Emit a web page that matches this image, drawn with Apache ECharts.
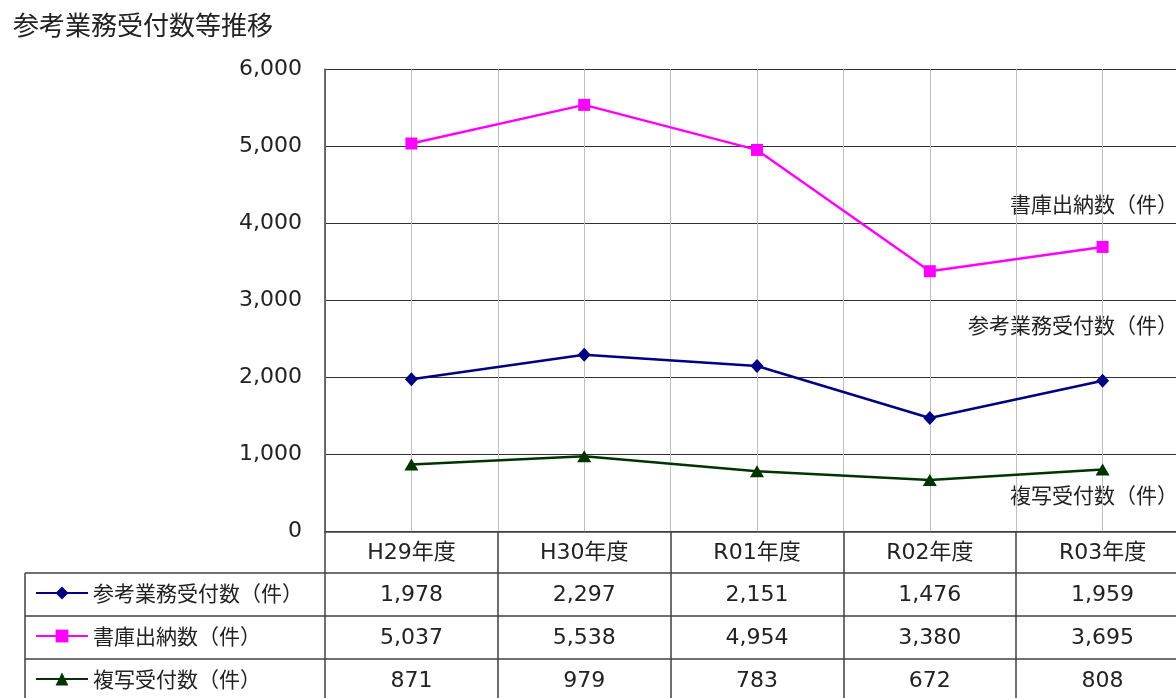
<!DOCTYPE html>
<html>
<head>
<meta charset="utf-8">
<script src="https://cdn.jsdelivr.net/npm/echarts@6/dist/echarts.min.js"></script>
<style>
html,body{margin:0;padding:0;background:#fff;overflow:hidden;width:1176px;height:698px;}
#main{width:1190px;height:698px;}
</style>
</head>
<body>
<div id="main"></div>
<script>
var title = '参考業務受付数等推移';
var categories = ['H29年度', 'H30年度', 'R01年度', 'R02年度', 'R03年度'];
var seriesNames = ['参考業務受付数（件）', '書庫出納数（件）', '複写受付数（件）'];
var sankou = [1978, 2297, 2151, 1476, 1959];
var shoko = [5037, 5538, 4954, 3380, 3695];
var fukusha = [871, 979, 783, 672, 808];

var JP = '"Noto Sans CJK JP", sans-serif';
var NUM = '"DejaVu Sans", "Noto Sans CJK JP", sans-serif';
var DARK = '#404040';
function fmt(v) { return Number(v).toLocaleString('en-US'); }

var chart = echarts.init(document.getElementById('main'), null, {renderer: 'canvas'});

function legendFor(i, top) {
  return {
    orient: 'vertical', left: 30, top: top,
    itemWidth: 52, itemHeight: 16,
    data: [seriesNames[i]],
    textStyle: {fontFamily: JP, fontSize: 21, color: '#222', lineHeight: 24}
  };
}

var option = {
  backgroundColor: '#ffffff',
  animation: false,
  title: {
    text: title, left: 8, top: 7,
    textStyle: {fontFamily: JP, fontSize: 26, fontWeight: 'normal', color: '#222'}
  },
  legend: [legendFor(0, 576), legendFor(1, 619), legendFor(2, 662)],
  grid: {left: 325, top: 69.3, width: 864, height: 462.4, containLabel: false},
  xAxis: [{
    type: 'category',
    data: categories,
    boundaryGap: true,
    axisLine: {show: true, lineStyle: {color: DARK, width: 1.5}},
    axisTick: {show: true, length: 170, interval: 0, lineStyle: {color: DARK, width: 1.5}},
    splitLine: {show: false},
    axisLabel: {
      interval: 0, margin: 2,
      formatter: function (val, idx) {
        return '{h|' + val + '}\n{v|' + fmt(sankou[idx]) + '}\n{v|' + fmt(shoko[idx]) + '}\n{v|' + fmt(fukusha[idx]) + '}';
      },
      rich: {
        h: {fontFamily: NUM, fontSize: 22, color: '#222', lineHeight: 40},
        v: {fontFamily: NUM, fontSize: 22, color: '#222', lineHeight: 43}
      }
    }
  }, {
    type: 'value', min: 0, max: 10, interval: 1,
    position: 'top',
    axisLine: {show: false}, axisTick: {show: false}, axisLabel: {show: false},
    splitLine: {show: true, lineStyle: {color: '#c0c0c0', width: 1}}
  }],
  yAxis: {
    type: 'value', min: 0, max: 6000, interval: 1000,
    axisLine: {show: true, lineStyle: {color: DARK, width: 1.5}},
    axisTick: {show: false},
    axisLabel: {margin: 23, fontFamily: NUM, fontSize: 22, color: '#222', formatter: function (v) { return fmt(v); }},
    splitLine: {show: true, lineStyle: {color: '#303030', width: 1}}
  },
  series: [{
    name: seriesNames[0], type: 'line', data: sankou,
    symbol: 'diamond', symbolSize: [13, 14],
    itemStyle: {color: '#000080'}, lineStyle: {color: '#000080', width: 2.5}, z: 3
  }, {
    name: seriesNames[1], type: 'line', data: shoko,
    symbol: 'rect', symbolSize: 12,
    itemStyle: {color: '#ff00ff'}, lineStyle: {color: '#ff00ff', width: 2.5}, z: 3
  }, {
    name: seriesNames[2], type: 'line', data: fukusha,
    symbol: 'triangle', symbolSize: [14, 12],
    itemStyle: {color: '#003300'}, lineStyle: {color: '#003300', width: 2.5}, z: 3
  }],
  graphic: [
    {type: 'line', shape: {x1: 25, y1: 573, x2: 1190, y2: 573}, style: {stroke: DARK, lineWidth: 1.5}},
    {type: 'line', shape: {x1: 25, y1: 616, x2: 1190, y2: 616}, style: {stroke: DARK, lineWidth: 1.5}},
    {type: 'line', shape: {x1: 25, y1: 659, x2: 1190, y2: 659}, style: {stroke: DARK, lineWidth: 1.5}},
    {type: 'line', shape: {x1: 25, y1: 573, x2: 25, y2: 698}, style: {stroke: DARK, lineWidth: 1.5}},
    {type: 'text', x: 1178, y: 204, style: {text: seriesNames[1], fontFamily: JP, fontSize: 21, fill: '#222', align: 'right', verticalAlign: 'middle'}},
    {type: 'text', x: 1178, y: 325, style: {text: seriesNames[0], fontFamily: JP, fontSize: 21, fill: '#222', align: 'right', verticalAlign: 'middle'}},
    {type: 'text', x: 1178, y: 495, style: {text: seriesNames[2], fontFamily: JP, fontSize: 21, fill: '#222', align: 'right', verticalAlign: 'middle'}}
  ]
};
chart.setOption(option);
</script>
</body>
</html>
